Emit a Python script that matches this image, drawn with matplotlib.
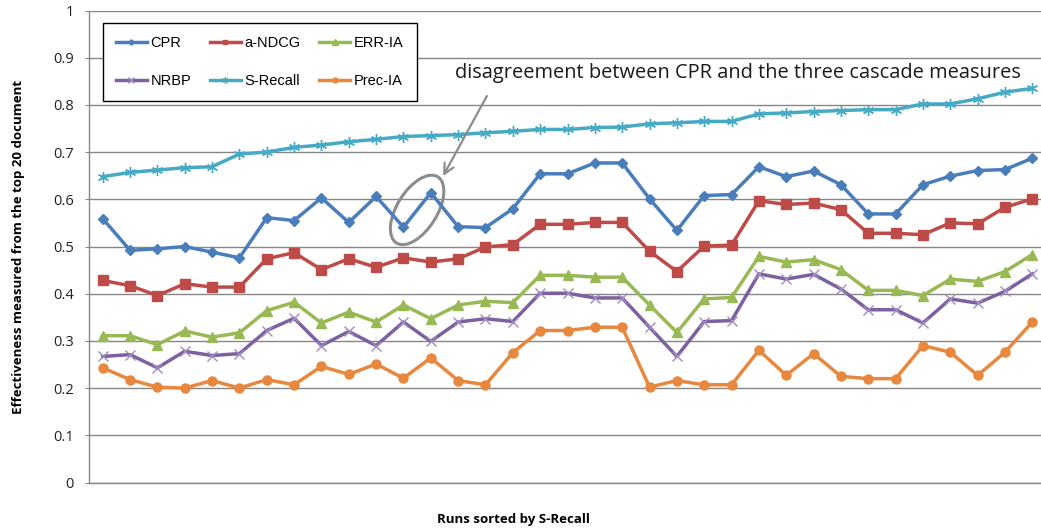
import matplotlib.pyplot as plt
from matplotlib.patches import Ellipse
from matplotlib.transforms import ScaledTranslation
import numpy as np

# values (35 runs, sorted by S-Recall)
s_recall = [0.648, 0.657, 0.662, 0.667, 0.669, 0.696, 0.700, 0.710, 0.715, 0.722,
            0.727, 0.733, 0.735, 0.737, 0.741, 0.744, 0.748, 0.748, 0.752, 0.753,
            0.760, 0.762, 0.765, 0.765, 0.781, 0.783, 0.786, 0.788, 0.790, 0.790,
            0.802, 0.802, 0.813, 0.827, 0.835]
cpr = [0.559, 0.492, 0.495, 0.500, 0.488, 0.476, 0.561, 0.555, 0.603, 0.551,
       0.606, 0.541, 0.614, 0.542, 0.540, 0.580, 0.654, 0.654, 0.677, 0.677,
       0.601, 0.534, 0.608, 0.610, 0.669, 0.648, 0.660, 0.631, 0.569, 0.569,
       0.631, 0.649, 0.661, 0.663, 0.687]
andcg = [0.428, 0.417, 0.396, 0.421, 0.414, 0.414, 0.474, 0.487, 0.451, 0.474,
         0.456, 0.476, 0.467, 0.474, 0.499, 0.504, 0.547, 0.547, 0.551, 0.551,
         0.490, 0.447, 0.501, 0.503, 0.597, 0.589, 0.592, 0.578, 0.528, 0.528,
         0.525, 0.550, 0.548, 0.583, 0.601]
err_ia = [0.311, 0.311, 0.292, 0.321, 0.308, 0.317, 0.364, 0.382, 0.338, 0.361,
          0.340, 0.376, 0.347, 0.376, 0.384, 0.381, 0.439, 0.439, 0.435, 0.435,
          0.376, 0.318, 0.389, 0.392, 0.479, 0.467, 0.472, 0.451, 0.407, 0.407,
          0.396, 0.431, 0.426, 0.447, 0.483]
nrbp = [0.267, 0.271, 0.243, 0.278, 0.269, 0.273, 0.322, 0.348, 0.290, 0.320,
        0.290, 0.340, 0.299, 0.340, 0.347, 0.341, 0.401, 0.401, 0.391, 0.391,
        0.329, 0.267, 0.341, 0.343, 0.442, 0.431, 0.441, 0.410, 0.366, 0.366,
        0.338, 0.389, 0.380, 0.405, 0.442]
prec_ia = [0.243, 0.218, 0.202, 0.200, 0.216, 0.200, 0.218, 0.207, 0.246, 0.229,
           0.251, 0.221, 0.264, 0.216, 0.207, 0.275, 0.322, 0.322, 0.329, 0.329,
           0.202, 0.216, 0.207, 0.207, 0.280, 0.227, 0.273, 0.225, 0.220, 0.220,
           0.290, 0.276, 0.227, 0.276, 0.340]
y_ticks = [0, 0.1, 0.2, 0.3, 0.4, 0.5, 0.6, 0.7, 0.8, 0.9, 1]
y_tick_labels = ["0", "0.1", "0.2", "0.3", "0.4", "0.5", "0.6", "0.7", "0.8", "0.9", "1"]

x = np.arange(len(cpr))

fig = plt.figure(figsize=(10.41, 5.31), dpi=100)
ax = fig.add_axes([89 / 1041, 48.5 / 531, 957 / 1041, 472 / 531])

series = [
    ("CPR", cpr, "#4a7ebb", dict(marker="D", markersize=5)),
    ("a-NDCG", andcg, "#be4b48", dict(marker="s", markersize=6.5)),
    ("ERR-IA", err_ia, "#98b954", dict(marker="^", markersize=7.5)),
    ("NRBP", nrbp, "#7d60a0", dict(marker="x", markersize=7, markeredgewidth=1,
                                  markeredgecolor="#a08cc0")),
    ("S-Recall", s_recall, "#46aac5", dict(marker=(6, 2, 0), markersize=8,
                                          markeredgewidth=1)),
    ("Prec-IA", prec_ia, "#e8883f", dict(marker="o", markersize=6.5)),
]
handles = {}
for name, vals, col, mk in series:
    h, = ax.plot(x, vals, color=col, lw=2.5, label=name, zorder=3,
                 markerfacecolor=col, markeredgecolor=mk.pop("markeredgecolor", col), **mk)
    handles[name] = h

ax.set_xlim(-0.5, 34.5)
ax.set_ylim(0, 1)
ax.set_yticks(y_ticks)
ax.set_yticklabels(y_tick_labels, fontsize=10.5, family="Open Sans", color="#222222")
ax.set_xticks([])
ax.tick_params(axis="y", length=3, color="#868686", pad=8)
ax.grid(axis="y", color="#868686", lw=1)
ax.set_axisbelow(True)
for s in ["top", "right"]:
    ax.spines[s].set_visible(False)
for s in ["left", "bottom"]:
    ax.spines[s].set_color("#868686")
    ax.spines[s].set_linewidth(1)

ax.set_ylabel("Effectiveness measured from the top 20 document", fontsize=9.5,
              family="Open Sans", fontweight="bold")
ax.yaxis.set_label_coords(-64 / 957, 0.5)
fig.text(513 / 1041, 1 - 519 / 531, "Runs sorted by S-Recall", fontsize=9.5,
         family="Open Sans", fontweight="bold", ha="center", va="center")

order = ["CPR", "NRBP", "a-NDCG", "S-Recall", "ERR-IA", "Prec-IA"]
leg = ax.legend([handles[n] for n in order], order, ncol=3, loc="upper left",
                bbox_to_anchor=(103 / 1041, 1 - 23 / 531), bbox_transform=fig.transFigure,
                prop={"family": "Liberation Sans", "size": 10.5}, frameon=True,
                fancybox=False, edgecolor="black", framealpha=1, borderaxespad=0,
                handlelength=2.1, handletextpad=0.25, columnspacing=1.3,
                labelspacing=1.65, borderpad=0.9, markerscale=0.55)
leg.get_frame().set_linewidth(1)

# ellipse around the disagreement points (CPR runs 11 and 12)
cx = (x[11] + x[12]) / 2
cy = (cpr[11] + cpr[12]) / 2
ell = Ellipse((0, 0), width=0.78, height=0.4, angle=58, fill=False,
              edgecolor="#8c8c8c", lw=2.2,
              transform=fig.dpi_scale_trans + ScaledTranslation(cx, cy, ax.transData))
ax.add_patch(ell)

ax.annotate("", xy=(12.4, 0.644), xytext=(14.1, 0.824),
            arrowprops=dict(arrowstyle="->", color="#8c8c8c", lw=1.6,
                            mutation_scale=18))
ax.text(455 / 1041, 1 - 73 / 531, "disagreement between CPR and the three cascade measures",
        transform=fig.transFigure, fontsize=14.4, family="Open Sans", color="#1a1a1a",
        va="center", ha="left")

fig.savefig("out.png", dpi=100)
